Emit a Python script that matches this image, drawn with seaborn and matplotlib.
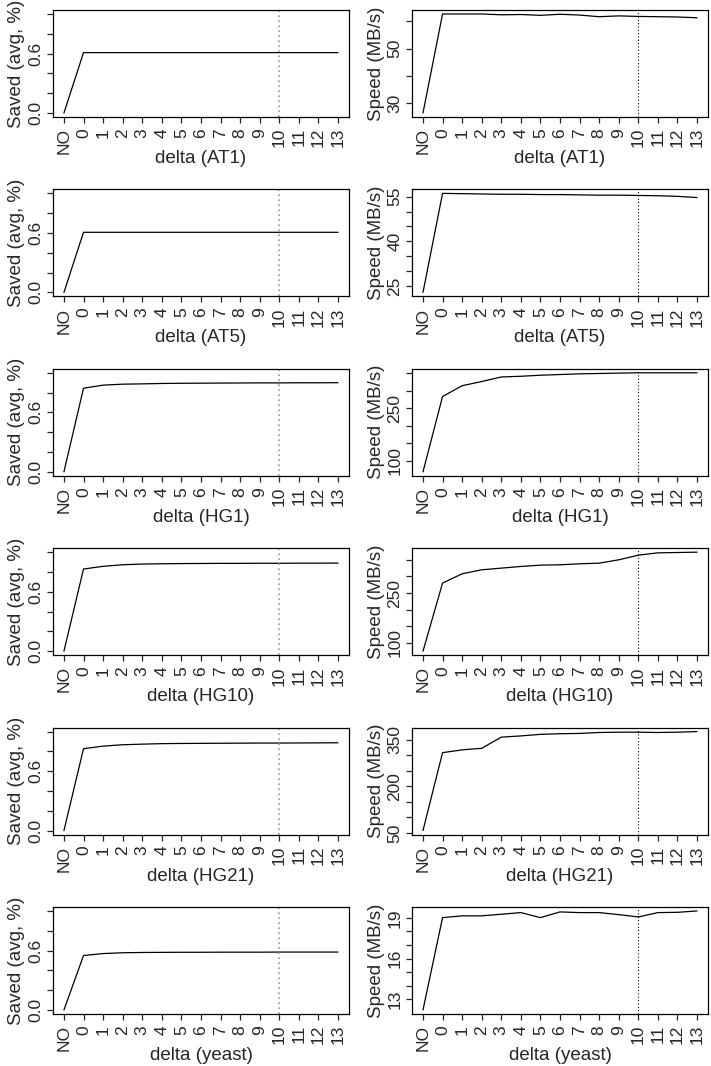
import matplotlib
matplotlib.use('Agg')
import matplotlib.pyplot as plt
import seaborn as sns
import pandas as pd

# x categories
deltas = ["NO", "0", "1", "2", "3", "4", "5", "6", "7", "8", "9", "10", "11", "12", "13"]
datasets = ["AT1", "AT5", "HG1", "HG10", "HG21", "yeast"]

# saved fraction (avg)
saved_at1 = [0.0, 0.61, 0.61, 0.61, 0.61, 0.61, 0.61, 0.61, 0.61, 0.61, 0.61, 0.61, 0.61, 0.61, 0.61]
saved_at5 = [0.0, 0.607, 0.607, 0.607, 0.607, 0.607, 0.607, 0.607, 0.607, 0.607, 0.607, 0.607, 0.607, 0.607, 0.607]
saved_hg1 = [0.0, 0.844, 0.875, 0.885, 0.888, 0.892, 0.894, 0.895, 0.896, 0.897, 0.898, 0.898, 0.899, 0.899, 0.900]
saved_hg10 = [0.0, 0.83, 0.857, 0.873, 0.88, 0.883, 0.885, 0.886, 0.887, 0.887, 0.888, 0.888, 0.889, 0.889, 0.89]
saved_hg21 = [0.0, 0.827, 0.853, 0.867, 0.873, 0.878, 0.88, 0.881, 0.882, 0.883, 0.884, 0.884, 0.885, 0.886, 0.887]
saved_yeast = [0.0, 0.55, 0.57, 0.578, 0.581, 0.582, 0.583, 0.583, 0.584, 0.584, 0.584, 0.585, 0.585, 0.585, 0.585]

# speed (MB/s)
speed_at1 = [26.3, 62.7, 62.7, 62.7, 62.4, 62.5, 62.2, 62.6, 62.3, 61.7, 62.0, 61.8, 61.7, 61.6, 61.3]
speed_at5 = [22.8, 56.1, 56.0, 55.9, 55.8, 55.8, 55.7, 55.7, 55.6, 55.5, 55.5, 55.4, 55.3, 55.1, 54.7]
speed_hg1 = [67.6, 283, 314, 326, 339, 341, 344, 346, 348, 349, 350, 351, 351, 351, 351]
speed_hg10 = [75, 280, 308, 320, 325, 330, 334, 335, 338, 340, 350, 364, 371, 372, 373]
speed_hg21 = [57.5, 309, 318, 323, 359, 363, 368, 370, 371, 374, 375, 375, 374, 375, 377]
speed_yeast = [12.22, 19.02, 19.15, 19.15, 19.27, 19.39, 19.02, 19.44, 19.39, 19.39, 19.24, 19.07, 19.39, 19.41, 19.51]

saved_all = [saved_at1, saved_at5, saved_hg1, saved_hg10, saved_hg21, saved_yeast]
speed_all = [speed_at1, speed_at5, speed_hg1, speed_hg10, speed_hg21, speed_yeast]

# y ticks (all drawn) and which of them carry a label (R drops overlapping ones)
saved_ticks = [0.0, 0.2, 0.4, 0.6, 0.8, 1.0]
saved_labels = ["0.0", "", "", "0.6", "", ""]
speed_ticks = [
    [30, 40, 50, 60],
    [25, 30, 35, 40, 45, 50, 55],
    [100, 150, 200, 250, 300, 350],
    [100, 150, 200, 250, 300, 350],
    [50, 100, 150, 200, 250, 300, 350],
    [13, 14, 15, 16, 17, 18, 19],
]
speed_labels = [
    ["30", "", "50", ""],
    ["25", "", "", "40", "", "", "55"],
    ["100", "", "", "250", "", ""],
    ["100", "", "", "250", "", ""],
    ["50", "", "", "200", "", "", "350"],
    ["13", "", "", "16", "", "", "19"],
]
marker_delta = "10"

sns.set_style("ticks")
plt.rcParams['font.family'] = ['Liberation Sans', 'DejaVu Sans']
plt.rcParams['axes.linewidth'] = 0.9
plt.rcParams['xtick.major.width'] = 0.9
plt.rcParams['ytick.major.width'] = 0.9
plt.rcParams['xtick.major.size'] = 4.0
plt.rcParams['ytick.major.size'] = 4.0


def draw_panel(ax, values, ticks, labels, ylabel, name, fixed_ylim=None, vcol="black", vlw=0.8):
    df = pd.DataFrame({"delta": deltas, "value": values})
    sns.lineplot(data=df, x="delta", y="value", ax=ax, color="black", linewidth=0.9, sort=False)
    n = len(deltas)
    ax.set_xlim(-0.04 * (n - 1), (n - 1) * 1.04)
    if fixed_ylim is None:
        lo, hi = min(values), max(values)
    else:
        lo, hi = fixed_ylim
    pad = 0.04 * (hi - lo)
    ax.set_ylim(lo - pad, hi + pad)
    ax.axvline(deltas.index(marker_delta), color=vcol, linestyle=(0, (1, 2)), linewidth=vlw)
    ax.set_xticks(range(n))
    ax.set_xticklabels(deltas, rotation=90, fontsize=12.5)
    ax.set_yticks(ticks)
    ax.set_yticklabels(labels, rotation=90, va="center", fontsize=12.5)
    ax.set_xlabel("delta (%s)" % name, fontsize=13.5, labelpad=-3)
    ax.set_ylabel(ylabel, fontsize=13.5, labelpad=2)
    ax.tick_params(axis="x", pad=4)
    ax.tick_params(axis="y", pad=3)
    for s in ax.spines.values():
        s.set_visible(True)
        s.set_color("black")


fig, axes = plt.subplots(6, 2, figsize=(7.11, 10.66), dpi=100)
fig.subplots_adjust(left=0.0745, right=0.9958, top=0.9906, bottom=0.0488,
                    hspace=0.677, wspace=0.213)

for i, name in enumerate(datasets):
    draw_panel(axes[i, 0], saved_all[i], saved_ticks, saved_labels,
               "Saved (avg, %)", name, fixed_ylim=(0.0, 1.0), vcol="#9a9a9a", vlw=1.2)
    draw_panel(axes[i, 1], speed_all[i], speed_ticks[i], speed_labels[i],
               "Speed (MB/s)", name)

fig.savefig("out.png", dpi=100)
plt.close(fig)
